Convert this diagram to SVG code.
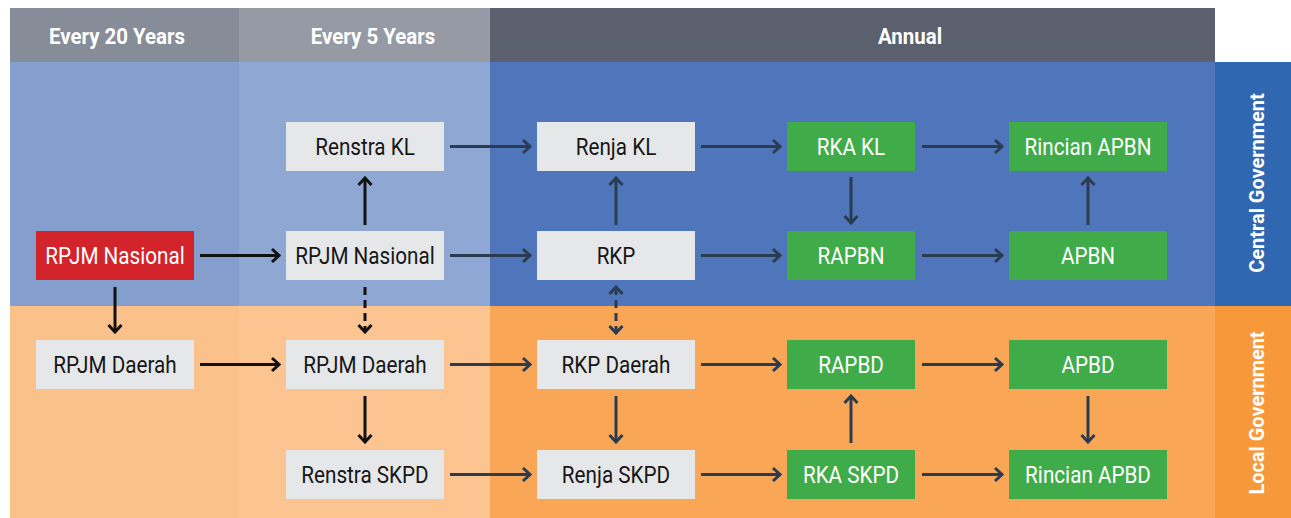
<svg xmlns="http://www.w3.org/2000/svg" width="1291" height="518" viewBox="0 0 1291 518">
<defs>
<style>
.hdr{font-family:Roboto,"Liberation Sans",sans-serif;font-weight:bold;font-size:22px;fill:#fff;text-anchor:middle}
.side{font-family:Roboto,"Liberation Sans",sans-serif;font-weight:bold;font-size:21px;fill:#fff;text-anchor:middle}
.t{font-family:Roboto,"Liberation Sans",sans-serif;font-size:23.5px;text-anchor:middle}
.gray rect{fill:#e6e7e9}.gray text{fill:#161616}
.red rect{fill:#d3232b}.red text{fill:#fff}
.green rect{fill:#3fac49}.green text{fill:#fff}
.k{stroke:#111;stroke-width:3;fill:none}
.s{stroke:#2b3c50;stroke-width:3;fill:none}
.d{stroke-dasharray:8 5}
</style>
<marker id="ak" viewBox="-12 -10 14 20" refX="0" refY="0" markerWidth="14" markerHeight="20" markerUnits="userSpaceOnUse" orient="auto-start-reverse"><path d="M-7,-6.5 L0,0 L-7,6.5" fill="none" stroke="#111" stroke-width="3"/></marker>
<marker id="as" viewBox="-12 -10 14 20" refX="0" refY="0" markerWidth="14" markerHeight="20" markerUnits="userSpaceOnUse" orient="auto-start-reverse"><path d="M-7,-6.5 L0,0 L-7,6.5" fill="none" stroke="#2b3c50" stroke-width="3"/></marker>
</defs>
<g id="background">
<rect x="10" y="8" width="229" height="54" fill="#878d98"/>
<rect x="239" y="8" width="251" height="54" fill="#959aa5"/>
<rect x="490" y="8" width="725" height="54" fill="#5a606e"/>
<rect x="10" y="62" width="229" height="244" fill="#849fcd"/>
<rect x="239" y="62" width="251" height="244" fill="#8fa7d3"/>
<rect x="490" y="62" width="725" height="244" fill="#4f75ba"/>
<rect x="1215" y="62" width="76" height="244" fill="#2f67b1"/>
<rect x="10" y="306" width="229" height="212" fill="#fbc18a"/>
<rect x="239" y="306" width="251" height="212" fill="#fcc490"/>
<rect x="490" y="306" width="725" height="212" fill="#f9a757"/>
<rect x="1215" y="306" width="76" height="212" fill="#f7983a"/>
<text class="hdr" transform="translate(117,44) scale(0.93,1)">Every 20 Years</text>
<text class="hdr" transform="translate(373,44) scale(0.93,1)">Every 5 Years</text>
<text class="hdr" transform="translate(910,44) scale(0.93,1)">Annual</text>
<text class="side" transform="translate(1264,183) rotate(-90) scale(0.95,1)">Central Government</text>
<text class="side" transform="translate(1264,413) rotate(-90) scale(0.95,1)">Local Government</text>
</g>
<g id="connectors">
<line class="k" x1="200" y1="255.5" x2="279" y2="255.5" marker-end="url(#ak)"/>
<line class="k" x1="200" y1="364.5" x2="279" y2="364.5" marker-end="url(#ak)"/>
<line class="k" x1="115" y1="287" x2="115" y2="332" marker-end="url(#ak)"/>
<line class="k" x1="365" y1="225" x2="365" y2="178" marker-end="url(#ak)"/>
<line class="k d" x1="365" y1="287" x2="365" y2="332" marker-end="url(#ak)"/>
<line class="k" x1="365" y1="396" x2="365" y2="442" marker-end="url(#ak)"/>
<line class="s" x1="450" y1="146.5" x2="530" y2="146.5" marker-end="url(#as)"/>
<line class="s" x1="450" y1="255.5" x2="530" y2="255.5" marker-end="url(#as)"/>
<line class="s" x1="450" y1="364.5" x2="530" y2="364.5" marker-end="url(#as)"/>
<line class="s" x1="450" y1="474.5" x2="530" y2="474.5" marker-end="url(#as)"/>
<line class="s" x1="701" y1="146.5" x2="780" y2="146.5" marker-end="url(#as)"/>
<line class="s" x1="701" y1="255.5" x2="780" y2="255.5" marker-end="url(#as)"/>
<line class="s" x1="701" y1="364.5" x2="780" y2="364.5" marker-end="url(#as)"/>
<line class="s" x1="701" y1="474.5" x2="780" y2="474.5" marker-end="url(#as)"/>
<line class="s" x1="922" y1="146.5" x2="1002" y2="146.5" marker-end="url(#as)"/>
<line class="s" x1="922" y1="255.5" x2="1002" y2="255.5" marker-end="url(#as)"/>
<line class="s" x1="922" y1="364.5" x2="1002" y2="364.5" marker-end="url(#as)"/>
<line class="s" x1="922" y1="474.5" x2="1002" y2="474.5" marker-end="url(#as)"/>
<line class="s" x1="616" y1="225" x2="616" y2="178" marker-end="url(#as)"/>
<line class="s d" x1="616" y1="287" x2="616" y2="333" marker-start="url(#as)" marker-end="url(#as)"/>
<line class="s" x1="616" y1="396" x2="616" y2="442" marker-end="url(#as)"/>
<line class="s" x1="851" y1="177" x2="851" y2="223" marker-end="url(#as)"/>
<line class="s" x1="851" y1="443" x2="851" y2="396" marker-end="url(#as)"/>
<line class="s" x1="1088" y1="225" x2="1088" y2="178" marker-end="url(#as)"/>
<line class="s" x1="1088" y1="396" x2="1088" y2="442" marker-end="url(#as)"/>
</g>
<g id="n-rpjm-nasional-20" class="red"><rect x="36" y="231" width="158" height="49"/><text class="t" transform="translate(115,264) scale(0.88,1)">RPJM Nasional</text></g>
<g id="n-rpjm-daerah-20" class="gray"><rect x="36" y="340" width="158" height="49"/><text class="t" transform="translate(115,373) scale(0.88,1)">RPJM Daerah</text></g>
<g id="n-renstra-kl" class="gray"><rect x="286" y="122" width="158" height="49"/><text class="t" transform="translate(365,155) scale(0.88,1)">Renstra KL</text></g>
<g id="n-rpjm-nasional-5" class="gray"><rect x="286" y="231" width="158" height="49"/><text class="t" transform="translate(365,264) scale(0.88,1)">RPJM Nasional</text></g>
<g id="n-rpjm-daerah-5" class="gray"><rect x="286" y="340" width="158" height="49"/><text class="t" transform="translate(365,373) scale(0.88,1)">RPJM Daerah</text></g>
<g id="n-renstra-skpd" class="gray"><rect x="286" y="450" width="158" height="49"/><text class="t" transform="translate(365,483) scale(0.88,1)">Renstra SKPD</text></g>
<g id="n-renja-kl" class="gray"><rect x="537" y="122" width="158" height="49"/><text class="t" transform="translate(616,155) scale(0.88,1)">Renja KL</text></g>
<g id="n-rkp" class="gray"><rect x="537" y="231" width="158" height="49"/><text class="t" transform="translate(616,264) scale(0.88,1)">RKP</text></g>
<g id="n-rkp-daerah" class="gray"><rect x="537" y="340" width="158" height="49"/><text class="t" transform="translate(616,373) scale(0.88,1)">RKP Daerah</text></g>
<g id="n-renja-skpd" class="gray"><rect x="537" y="450" width="158" height="49"/><text class="t" transform="translate(616,483) scale(0.88,1)">Renja SKPD</text></g>
<g id="n-rka-kl" class="green"><rect x="787" y="122" width="128" height="49"/><text class="t" transform="translate(851,155) scale(0.88,1)">RKA KL</text></g>
<g id="n-rapbn" class="green"><rect x="787" y="231" width="128" height="49"/><text class="t" transform="translate(851,264) scale(0.88,1)">RAPBN</text></g>
<g id="n-rapbd" class="green"><rect x="787" y="340" width="128" height="49"/><text class="t" transform="translate(851,373) scale(0.88,1)">RAPBD</text></g>
<g id="n-rka-skpd" class="green"><rect x="787" y="450" width="128" height="49"/><text class="t" transform="translate(851,483) scale(0.88,1)">RKA SKPD</text></g>
<g id="n-rincian-apbn" class="green"><rect x="1009" y="122" width="158" height="49"/><text class="t" transform="translate(1088,155) scale(0.88,1)">Rincian APBN</text></g>
<g id="n-apbn" class="green"><rect x="1009" y="231" width="158" height="49"/><text class="t" transform="translate(1088,264) scale(0.88,1)">APBN</text></g>
<g id="n-apbd" class="green"><rect x="1009" y="340" width="158" height="49"/><text class="t" transform="translate(1088,373) scale(0.88,1)">APBD</text></g>
<g id="n-rincian-apbd" class="green"><rect x="1009" y="450" width="158" height="49"/><text class="t" transform="translate(1088,483) scale(0.88,1)">Rincian APBD</text></g>
</svg>
